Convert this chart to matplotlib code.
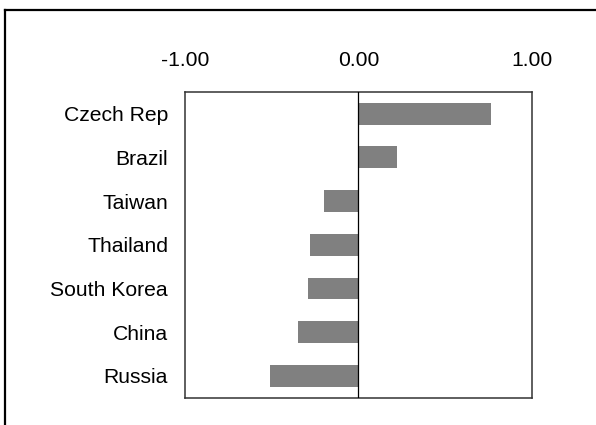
#! /usr/bin/env python3

import numpy as np
import matplotlib
matplotlib.use('Agg')
import matplotlib.pyplot as plt
from matplotlib.lines import Line2D

plt.rcParams['font.family'] = ['Liberation Sans', 'DejaVu Sans']

countries = ['Czech Rep', 'Brazil', 'Taiwan', 'Thailand', 'South Korea', 'China', 'Russia']
values = [0.76, 0.22, -0.20, -0.28, -0.29, -0.35, -0.51]
x_ticks = [-1.0, 0.0, 1.0]
x_tick_labels = ['-1.00', '0.00', '1.00']

fig = plt.figure(figsize=(5.96, 4.25), dpi=100)
ax = fig.add_axes([0.310, 0.064, 0.583, 0.720])

y = np.arange(len(countries))
ax.barh(y, values, height=0.5, color='#808080', edgecolor='none', zorder=2)
ax.axvline(0, color='black', linewidth=0.9, zorder=3)

ax.set_xlim(-1.0, 1.0)
ax.set_ylim(len(countries) - 0.5, -0.5)
ax.set_yticks(y)
ax.set_yticklabels(countries, fontsize=15.2)
ax.set_xticks(x_ticks)
ax.set_xticklabels(x_tick_labels, fontsize=15.2)
ax.xaxis.tick_top()
ax.tick_params(axis='x', length=0, pad=15.5)
ax.tick_params(axis='y', length=0, pad=12)

for spine in ax.spines.values():
    spine.set_color('#333333')
    spine.set_linewidth(1.1)

#   outer frame, only top and left edges fall inside the picture
fig.add_artist(Line2D([5 / 596, 1.0], [1 - 10 / 425, 1 - 10 / 425],
                      transform=fig.transFigure, color='black', linewidth=1.6))
fig.add_artist(Line2D([5 / 596, 5 / 596], [0.0, 1 - 10 / 425],
                      transform=fig.transFigure, color='black', linewidth=1.6))

plt.savefig('out.png', dpi=100)
plt.close()
